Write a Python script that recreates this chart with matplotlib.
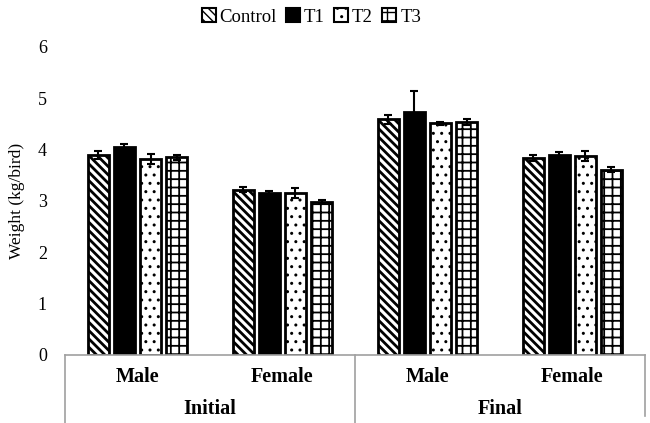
import matplotlib
matplotlib.use("Agg")
import matplotlib.pyplot as plt
import numpy as np
from matplotlib.patches import Patch

plt.rcParams['font.family'] = ['Liberation Serif', 'DejaVu Serif']

phases = ["Initial", "Final"]
sexes = ["Male", "Female", "Male", "Female"]
treatments = ["Control", "T1", "T2", "T3"]
control = [3.90, 3.22, 4.59, 3.84]
t1 = [4.05, 3.15, 4.74, 3.89]
t2 = [3.81, 3.15, 4.51, 3.87]
t3 = [3.85, 2.98, 4.54, 3.61]
control_err = [0.08, 0.05, 0.09, 0.06]
t1_err = [0.06, 0.05, 0.41, 0.07]
t2_err = [0.10, 0.10, 0.03, 0.10]
t3_err = [0.05, 0.03, 0.06, 0.05]

values = [control, t1, t2, t3]
errors = [control_err, t1_err, t2_err, t3_err]
colors = ["white", "black", "white", "white"]
hatches = ["\\\\\\\\", "", "..", "++"]
hatch_lw = [2.0, 1.0, 1.0, 1.3]

fig = plt.figure(figsize=(6.5, 4.23), dpi=100)
ax = fig.add_axes([0.1, 0.161, 0.892, 0.728])

x = np.arange(len(sexes))
step = 0.18
width = 0.145
handles = []
for i, (name, vals, errs) in enumerate(zip(treatments, values, errors)):
    plt.rcParams['hatch.linewidth'] = hatch_lw[i]
    pos = x + (i - 1.5) * step
    ax.bar(pos, vals, width, color=colors[i], edgecolor="black",
           linewidth=2, hatch=hatches[i], label=name, zorder=2)
    ax.errorbar(pos, vals, yerr=errs, fmt="none", ecolor="black",
                elinewidth=1.5, capsize=3, capthick=1.5, zorder=3)
    handles.append(Patch(facecolor=colors[i], edgecolor="black", linewidth=1.5,
                         hatch=hatches[i], label=name))

ax.set_xlim(-0.5, len(sexes) - 0.5)
ax.set_ylim(0, 6)
ax.set_yticks(range(0, 7))
ax.tick_params(axis='y', length=0, labelsize=13, pad=13)
ax.set_xticks([])
for s in ["top", "right", "left"]:
    ax.spines[s].set_visible(False)
ax.spines["bottom"].set_color("#a0a0a0")
ax.spines["bottom"].set_linewidth(1.2)
ax.set_ylabel("Weight (kg/bird)", fontsize=12.5, labelpad=9)

trans = ax.get_xaxis_transform()
for xi, s in zip(x, sexes):
    ax.text(xi, -0.072, s, transform=trans, ha="center", va="center",
            fontsize=14.5, fontweight="bold")
for j, p in enumerate(phases):
    ax.text(2 * j + 0.5, -0.175, p, transform=trans, ha="center", va="center",
            fontsize=14.5, fontweight="bold")
for xb, ybot in [(-0.5, -0.22), (1.5, -0.22), (3.5, -0.2)]:
    ax.plot([xb, xb], [0, ybot], transform=trans, color="#a0a0a0",
            lw=1.2, clip_on=False)

plt.rcParams['hatch.linewidth'] = 1.0
fig.legend(handles=handles, loc="upper center", bbox_to_anchor=(0.479, 1.02),
           ncol=4, frameon=False, fontsize=13.5, handlelength=0.75,
           handleheight=0.75, handletextpad=0.2, columnspacing=0.5)

fig.savefig("out.png", dpi=100)
